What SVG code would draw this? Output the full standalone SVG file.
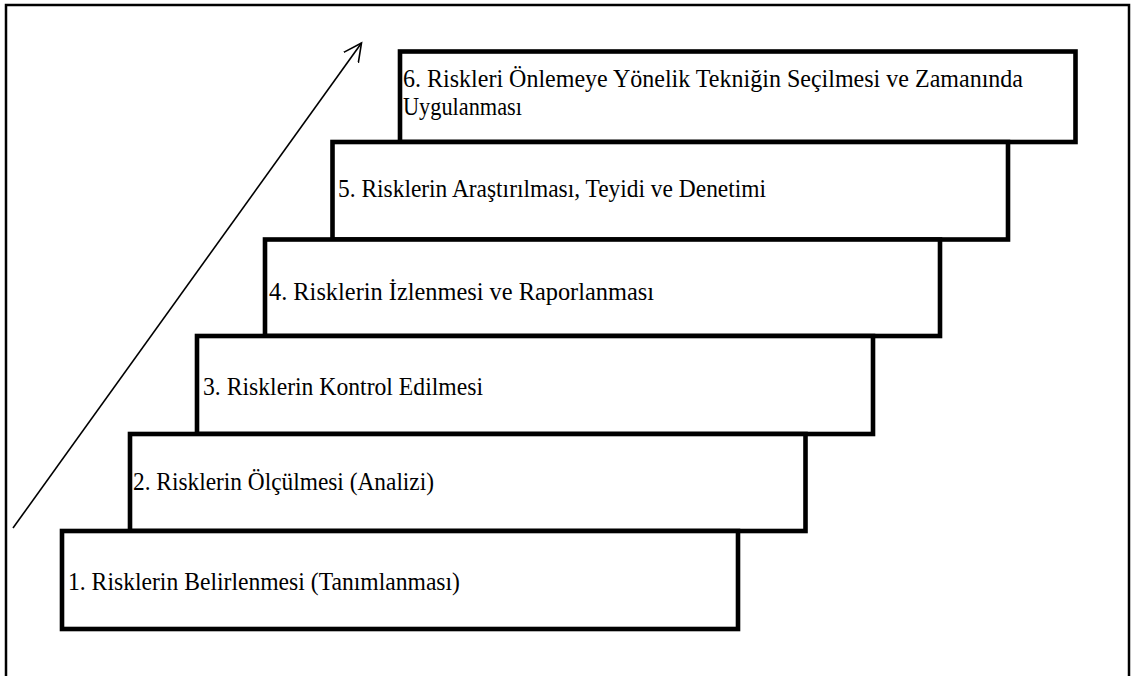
<svg xmlns="http://www.w3.org/2000/svg" width="1133" height="676" viewBox="0 0 1133 676">
  <style>
    .frame { fill: none; stroke: #000; stroke-width: 2.5; }
    .step { fill: #fff; stroke: #000; stroke-width: 4.6; stroke-linejoin: miter; }
    .label { fill: #000; }
    .arrow { fill: none; stroke: #000; stroke-width: 1.6; }
  </style>
  <defs>
    <marker id="openHead" viewBox="0 0 20 20" refX="18" refY="10" markerWidth="20" markerHeight="20" markerUnits="userSpaceOnUse" orient="auto">
      <path d="M0,1 L18,10 L0,19" fill="none" stroke="#000" stroke-width="1.6"/>
    </marker>
  </defs>
  <rect width="1133" height="676" fill="#fff"/>
  <!-- outer frame -->
  <rect class="frame" x="6" y="5" width="1123" height="690"/>

  <!-- staircase steps, top to bottom -->
  <g font-family="Liberation Serif, Times New Roman, serif" font-size="26">
    <g id="step6">
      <rect class="step" x="400" y="51.5" width="675.5" height="90.5"/>
      <text class="label" x="403" y="87" textLength="620" lengthAdjust="spacingAndGlyphs">6. Riskleri Önlemeye Yönelik Tekniğin Seçilmesi ve Zamanında</text>
      <text class="label" x="403" y="115" textLength="119" lengthAdjust="spacingAndGlyphs">Uygulanması</text>
    </g>
    <g id="step5">
      <rect class="step" x="332.5" y="142" width="675.5" height="97.5"/>
      <text class="label" x="338" y="197" textLength="428" lengthAdjust="spacingAndGlyphs">5. Risklerin Araştırılması, Teyidi ve Denetimi</text>
    </g>
    <g id="step4">
      <rect class="step" x="265" y="239.5" width="675" height="96.5"/>
      <text class="label" x="269" y="299.5" textLength="385" lengthAdjust="spacingAndGlyphs">4. Risklerin İzlenmesi ve Raporlanması</text>
    </g>
    <g id="step3">
      <rect class="step" x="197" y="336" width="676" height="98"/>
      <text class="label" x="203" y="394.5" textLength="280" lengthAdjust="spacingAndGlyphs">3. Risklerin Kontrol Edilmesi</text>
    </g>
    <g id="step2">
      <rect class="step" x="130" y="434" width="675.5" height="97"/>
      <text class="label" x="133" y="489.5" textLength="301" lengthAdjust="spacingAndGlyphs">2. Risklerin Ölçülmesi (Analizi)</text>
    </g>
    <g id="step1">
      <rect class="step" x="62" y="531" width="676" height="98"/>
      <text class="label" x="68" y="589.5" textLength="392" lengthAdjust="spacingAndGlyphs">1. Risklerin Belirlenmesi (Tanımlanması)</text>
    </g>
  </g>

  <!-- rising arrow -->
  <g id="connectors">
    <line class="arrow" x1="13" y1="528" x2="361.5" y2="43" marker-end="url(#openHead)"/>
  </g>
</svg>
